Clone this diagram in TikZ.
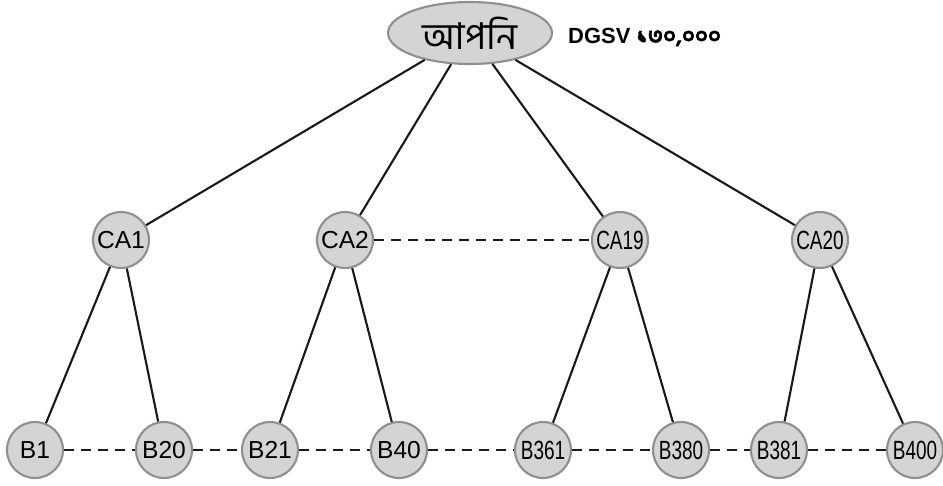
\documentclass[tikz,border=0pt]{standalone}
\usepackage{fontspec}
\setmainfont{Liberation Sans}
\newfontfamily\bengali[Script=Bengali]{Hind Siliguri}
\newfontfamily\bengalibold[Script=Bengali, FakeBold=2]{Hind Siliguri}
\newfontfamily\condensed[FakeStretch=0.72]{Liberation Sans}
\usetikzlibrary{shapes,calc}

\begin{document}
\begin{tikzpicture}[x=0.02cm, y=-0.02cm]
    \tikzstyle{root} = [
      ellipse,
      draw=black!44,
      line width=1.2pt,
      fill=black!17,
      minimum width=3.28cm,
      minimum height=1.24cm,
      inner sep=0pt,
      font=\bengali\fontsize{21}{23}\selectfont,
    ]
    \tikzstyle{member} = [
      circle,
      draw=black!44,
      line width=1.2pt,
      fill=black!17,
      minimum size=1.12cm,
      inner sep=0pt,
      font=\fontsize{14}{16}\selectfont,
    ]
    \tikzstyle{long} = [
      member,
      font=\condensed\fontsize{15}{17}\selectfont,
    ]
    \tikzstyle{link} = [
      line width=1.2pt,
      draw=black!90,
    ]
    \tikzstyle{peer} = [
      link,
      line width=1.3pt,
      dash pattern=on 5.7pt off 4pt,
    ]

    \useasboundingbox (0,0) rectangle (943,485);

    \newcommand{\carow}[0]{240}
    \newcommand{\brow}[0]{450}

    % root
    {
      \node[root] (you) at (470,33) {আপনি};
      \node[anchor=west, font=\fontsize{12.5}{15}\selectfont\bfseries] (volume) at (562,37)
        {DGSV {\bengalibold ১৩০,০০০}};
    }

    % CA line
    {
      \node[member] (ca1)  at (121,\carow) {CA1};
      \node[member] (ca2)  at (345,\carow) {CA2};
      \node[long]   (ca19) at (620,\carow) {CA19};
      \node[long]   (ca20) at (820,\carow) {CA20};

      \draw[link] (you) -- (ca1);
      \draw[link] (you) -- (ca2);
      \draw[link] (you) -- (ca19);
      \draw[link] (you) -- (ca20);
      \draw[peer] (ca2) -- (ca19);
    }

    % B line
    {
      \node[member] (b1)   at (35,\brow)  {B1};
      \node[member] (b20)  at (164,\brow) {B20};
      \node[member] (b21)  at (270,\brow) {B21};
      \node[member] (b40)  at (399,\brow) {B40};
      \node[long]   (b361) at (543,\brow) {B361};
      \node[long]   (b380) at (681,\brow) {B380};
      \node[long]   (b381) at (779,\brow) {B381};
      \node[long]   (b400) at (915,\brow) {B400};

      \draw[link] (ca1) -- (b1);
      \draw[link] (ca1) -- (b20);
      \draw[link] (ca2) -- (b21);
      \draw[link] (ca2) -- (b40);
      \draw[link] (ca19) -- (b361);
      \draw[link] (ca19) -- (b380);
      \draw[link] (ca20) -- (b381);
      \draw[link] (ca20) -- (b400);

      \draw[peer] (b1) -- (b20);
      \draw[peer] (b20) -- (b21);
      \draw[peer] (b21) -- (b40);
      \draw[peer] (b40) -- (b361);
      \draw[peer] (b361) -- (b380);
      \draw[peer] (b380) -- (b381);
      \draw[peer] (b381) -- (b400);
    }
  \end{tikzpicture}
\end{document}
